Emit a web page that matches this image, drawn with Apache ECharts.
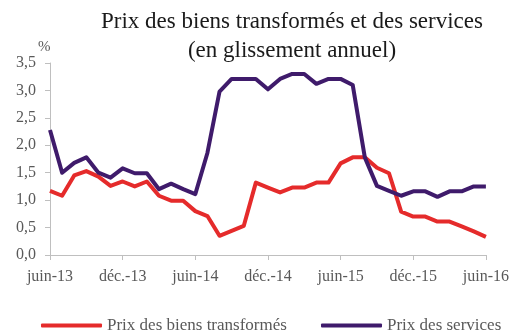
<!DOCTYPE html>
<html>
<head>
<meta charset="utf-8">
<script src="https://cdn.jsdelivr.net/npm/echarts@6/dist/echarts.min.js"></script>
<style>
  html, body { margin: 0; padding: 0; background: #fff; }
  #chart { width: 512px; height: 333px; }
</style>
</head>
<body>
<div id="chart"></div>
<script>
// Monthly categories, June 2013 to June 2016
const months = [
  'juin-13','juil.-13','août-13','sept.-13','oct.-13','nov.-13','déc.-13',
  'janv.-14','févr.-14','mars-14','avr.-14','mai-14','juin-14',
  'juil.-14','août-14','sept.-14','oct.-14','nov.-14','déc.-14',
  'janv.-15','févr.-15','mars-15','avr.-15','mai-15','juin-15',
  'juil.-15','août-15','sept.-15','oct.-15','nov.-15','déc.-15',
  'janv.-16','févr.-16','mars-16','avr.-16','mai-16','juin-16'
];

// Year-on-year change, %
const biensTransformes = [
  1.17, 1.08, 1.45, 1.53, 1.43, 1.26, 1.34, 1.25, 1.34, 1.08, 0.99, 0.99,
  0.80, 0.71, 0.35, 0.44, 0.53, 1.32, 1.23, 1.14, 1.23, 1.23, 1.32, 1.32,
  1.67, 1.78, 1.78, 1.59, 1.49, 0.79, 0.70, 0.70, 0.61, 0.61, 0.52, 0.43,
  0.33
];
const services = [
  2.28, 1.50, 1.68, 1.78, 1.50, 1.41, 1.58, 1.49, 1.49, 1.20, 1.30, 1.20,
  1.11, 1.86, 2.98, 3.21, 3.21, 3.21, 3.02, 3.21, 3.30, 3.30, 3.12, 3.21,
  3.21, 3.10, 1.78, 1.26, 1.17, 1.08, 1.16, 1.16, 1.06, 1.16, 1.16, 1.25,
  1.25
];

const seriesNames = ['Prix des biens transformés', 'Prix des services'];
const seriesColors = ['#e52b2b', '#3f1b6b'];
const yTicks = { min: 0, max: 3.5, step: 0.5 };

const serif = '"Liberation Serif", "DejaVu Serif", serif';
const axisGray = '#bfbfbf';
const labelGray = '#595959';

const chart = echarts.init(document.getElementById('chart'), null, { renderer: 'canvas' });

const legendText = { fontFamily: serif, fontSize: 17, color: labelGray };

chart.setOption({
  animation: false,
  backgroundColor: '#ffffff',
  title: {
    text: 'Prix des biens transformés et des services\n(en glissement annuel)',
    left: 287,
    top: 2,
    textAlign: 'center',
    textStyle: {
      fontFamily: serif,
      fontWeight: 'normal',
      fontSize: 23,
      lineHeight: 29,
      color: '#1a1a1a'
    }
  },
  graphic: [{
    type: 'text',
    left: 38,
    top: 40,
    style: { text: '%', font: '15px ' + serif, fill: labelGray }
  }],
  legend: [
    {
      data: [seriesNames[0]],
      left: 41,
      top: 317,
      icon: 'roundRect',
      itemWidth: 61,
      itemHeight: 4,
      itemGap: 0,
      textStyle: legendText,
      padding: 0
    },
    {
      data: [seriesNames[1]],
      left: 321,
      top: 317,
      icon: 'roundRect',
      itemWidth: 61,
      itemHeight: 4,
      itemGap: 0,
      textStyle: legendText,
      padding: 0
    }
  ],
  grid: { left: 50, right: 26, top: 63, bottom: 78, containLabel: false },
  xAxis: {
    type: 'category',
    data: months,
    boundaryGap: false,
    axisLine: { lineStyle: { color: axisGray, width: 1 } },
    axisTick: { interval: 5, length: 5, lineStyle: { color: axisGray } },
    axisLabel: {
      interval: 5,
      margin: 14,
      fontFamily: serif,
      fontSize: 16,
      color: labelGray
    },
    splitLine: { show: false }
  },
  yAxis: {
    type: 'value',
    min: yTicks.min,
    max: yTicks.max,
    interval: yTicks.step,
    axisLine: { show: true, lineStyle: { color: axisGray, width: 1 } },
    axisTick: { show: true, length: 5, lineStyle: { color: axisGray } },
    axisLabel: {
      margin: 14,
      fontFamily: serif,
      fontSize: 16,
      color: labelGray,
      formatter: v => v.toFixed(1).replace('.', ',')
    },
    splitLine: { show: false }
  },
  series: [
    {
      name: seriesNames[0],
      type: 'line',
      data: biensTransformes,
      symbol: 'none',
      color: seriesColors[0],
      lineStyle: { width: 4, color: seriesColors[0], join: 'round' }
    },
    {
      name: seriesNames[1],
      type: 'line',
      data: services,
      symbol: 'none',
      color: seriesColors[1],
      lineStyle: { width: 4, color: seriesColors[1], join: 'round' }
    }
  ]
});
</script>
</body>
</html>
